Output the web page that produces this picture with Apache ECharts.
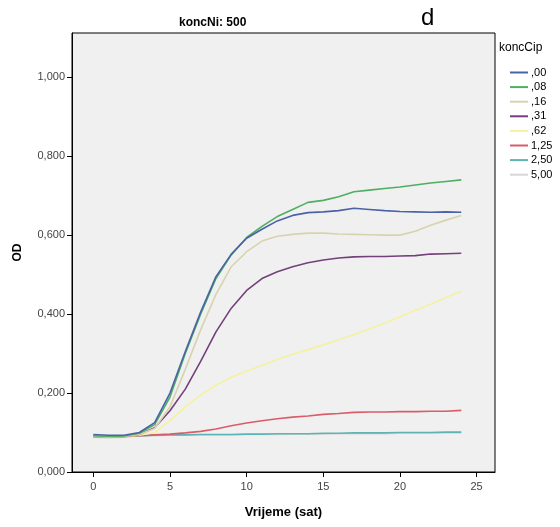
<!DOCTYPE html>
<html>
<head>
<meta charset="utf-8">
<script src="https://cdn.jsdelivr.net/npm/echarts@6/dist/echarts.min.js"></script>
<style>
html,body{margin:0;padding:0;background:#fff;}
#chart{width:560px;height:527px;}
</style>
</head>
<body>
<div id="chart"></div>
<script>
const hours = [0,1,2,3,4,5,6,7,8,9,10,11,12,13,14,15,16,17,18,19,20,21,22,23,24];
const seriesNames = [',00', ',08', ',16', ',31', ',62', '1,25', '2,50', '5,00'];
const c000 = [0.095,0.093,0.093,0.100,0.125,0.200,0.305,0.405,0.495,0.552,0.592,0.615,0.636,0.650,0.657,0.659,0.662,0.668,0.665,0.662,0.660,0.659,0.658,0.659,0.658];
const c008 = [0.092,0.090,0.091,0.098,0.120,0.190,0.300,0.400,0.490,0.550,0.594,0.622,0.647,0.665,0.683,0.688,0.697,0.710,0.714,0.718,0.722,0.727,0.732,0.736,0.740];
const c016 = [0.090,0.088,0.090,0.095,0.110,0.165,0.260,0.360,0.450,0.520,0.558,0.585,0.597,0.602,0.605,0.605,0.603,0.602,0.601,0.600,0.600,0.610,0.625,0.638,0.650];
const c031 = [0.090,0.088,0.090,0.095,0.112,0.155,0.210,0.280,0.355,0.415,0.460,0.490,0.507,0.520,0.530,0.537,0.542,0.545,0.546,0.546,0.547,0.548,0.552,0.553,0.554];
const c062 = [0.090,0.088,0.090,0.093,0.100,0.130,0.165,0.195,0.220,0.240,0.255,0.270,0.285,0.298,0.310,0.322,0.335,0.348,0.362,0.377,0.393,0.410,0.425,0.442,0.458];
const c125 = [0.090,0.088,0.090,0.092,0.094,0.096,0.099,0.103,0.109,0.117,0.124,0.130,0.135,0.139,0.142,0.146,0.148,0.151,0.152,0.152,0.153,0.153,0.154,0.154,0.156];
const c250 = [0.090,0.088,0.090,0.092,0.093,0.094,0.094,0.095,0.095,0.095,0.096,0.096,0.097,0.097,0.097,0.098,0.098,0.099,0.099,0.099,0.100,0.100,0.100,0.101,0.101];
const c500 = [0.088,0.086,0.088,0.091,0.092,0.093,0.093,0.094,0.094,0.094,0.095,0.095,0.095,0.096,0.096,0.096,0.097,0.097,0.097,0.097,0.098,0.098,0.098,0.099,0.099];
const xTicks = [0,5,10,15,20,25];
const yTicks = [0,0.2,0.4,0.6,0.8,1.0];

const values = [c000,c008,c016,c031,c062,c125,c250,c500];
const colors = ['#4a63a6','#4fae61','#d8d3ae','#74407c','#f5f1a0','#d95c68','#5cb4b4','#d6d6d6'];
const FONT = '"Liberation Sans", Arial, sans-serif';

const chart = echarts.init(document.getElementById('chart'), null, {renderer:'canvas'});
const series = seriesNames.map((n,i)=>({
  name:n, type:'line', symbol:'none', smooth:false,
  data: hours.map((h,j)=>[h, values[i][j]]),
  lineStyle:{color:colors[i], width:1.6},
  itemStyle:{color:colors[i]},
  z: 10 - i
}));

chart.setOption({
  animation:false,
  backgroundColor:'#ffffff',
  title:{
    text:'koncNi: 500', left:174, top:12,
    textStyle:{fontFamily:FONT, fontSize:12, fontWeight:'bold', color:'#000'}
  },
  graphic:[
    {type:'text', left:421, top:6, style:{text:'d', font:'24px '+FONT, fill:'#000'}},
    {type:'text', left:499, top:42, style:{text:'koncCip', font:'12px '+FONT, fill:'#000'}}
  ],
  legend:{
    data:seriesNames, orient:'vertical', left:505, top:61,
    icon:'rect', itemWidth:18, itemHeight:2, itemGap:1.6,
    textStyle:{fontFamily:FONT, fontSize:11, color:'#000', lineHeight:13, padding:[0,0,0,-2]}
  },
  grid:{
    left:72, right:65, top:33, bottom:55,
    show:true, backgroundColor:'#f0f0f0', borderColor:'#000', borderWidth:1
  },
  xAxis:{
    type:'value', min:-1.39, max:26.2,
    name:'Vrijeme (sat)', nameLocation:'middle', nameGap:34,
    nameTextStyle:{fontFamily:FONT, fontSize:13, fontWeight:'bold', color:'#000'},
    axisLine:{show:true, onZero:false, lineStyle:{color:'#000', width:1}},
    axisTick:{show:true, length:5, customValues:xTicks, lineStyle:{color:'#000'}},
    axisLabel:{customValues:xTicks, margin:9, fontFamily:FONT, fontSize:11, color:'#444',
      formatter:v=>String(v)},
    splitLine:{show:false}
  },
  yAxis:{
    type:'value', min:0, max:1.112,
    name:'OD', nameLocation:'middle', nameGap:48, nameRotate:90,
    nameTextStyle:{fontFamily:FONT, fontSize:12, fontWeight:'bold', color:'#000'},
    axisLine:{show:true, onZero:false, lineStyle:{color:'#000', width:1}},
    axisTick:{show:true, length:5, customValues:yTicks, lineStyle:{color:'#000'}},
    axisLabel:{customValues:yTicks, margin:7, fontFamily:FONT, fontSize:11, color:'#444',
      formatter:v=>v.toFixed(3).replace('.', ',')},
    splitLine:{show:false}
  },
  series:series
});
</script>
</body>
</html>
